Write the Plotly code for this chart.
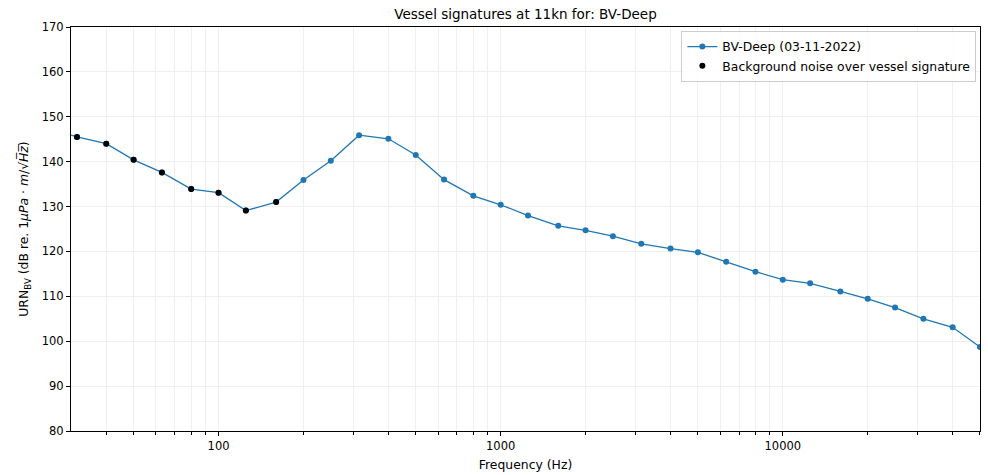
import plotly.graph_objects as go

# One-third-octave band centre frequencies (Hz)
freqs = [25, 31.5, 40, 50, 63, 80, 100, 125, 160, 200, 250, 315, 400, 500, 630,
         800, 1000, 1250, 1600, 2000, 2500, 3150, 4000, 5000, 6300, 8000,
         10000, 12500, 16000, 20000, 25000, 31500, 40000, 50000]

# Radiated noise level per band (dB re 1 uPa m / sqrt(Hz))
urn = [147.5, 145.5, 144.0, 140.4, 137.6, 133.9, 133.1, 129.1, 131.0, 135.9, 140.2,
       145.9, 145.1, 141.5, 136.0, 132.4, 130.4, 128.0, 125.7, 124.7, 123.4,
       121.7, 120.65, 119.8, 117.7, 115.5, 113.7, 112.9, 111.1, 109.45, 107.5,
       105.0, 103.1, 98.7]

# Bands where the background noise exceeds the vessel signature
noise_freqs = [25, 31.5, 40, 50, 63, 80, 100, 125, 160]
noise_urn = [147.5, 145.5, 144.0, 140.4, 137.6, 133.9, 133.1, 129.1, 131.0]

x_major = [100, 1000, 10000]
x_major_text = ["100", "1000", "10000"]
x_minor = [40, 50, 60, 70, 80, 90,
           200, 300, 400, 500, 600, 700, 800, 900,
           2000, 3000, 4000, 5000, 6000, 7000, 8000, 9000,
           20000, 30000, 40000, 50000]
y_ticks = list(range(80, 171, 10))

BLUE = "#1f77b4"
FONT = "DejaVu Sans"
GRID = "#efefef"

fig = go.Figure()
fig.add_trace(go.Scatter(
    x=freqs, y=urn, mode="lines+markers",
    name="BV-Deep (03-11-2022)",
    line=dict(color=BLUE, width=1.3),
    marker=dict(color=BLUE, size=6),
))
fig.add_trace(go.Scatter(
    x=noise_freqs, y=noise_urn, mode="markers",
    name="Background noise over vessel signature",
    marker=dict(color="black", size=6),
))

fig.update_layout(
    width=988, height=475,
    margin=dict(l=71, r=8, t=27, b=44),
    paper_bgcolor="white", plot_bgcolor="white",
    font=dict(family=FONT, size=11.5, color="black"),
    title=dict(text="Vessel signatures at 11kn for: BV-Deep",
               x=0.5, xanchor="center", y=0.97, yanchor="middle",
               xref="paper", font=dict(size=13.5)),
    showlegend=True,
    legend=dict(x=0.996, y=0.99, xanchor="right", yanchor="top",
                bgcolor="rgba(255,255,255,0.85)", bordercolor="#cccccc",
                borderwidth=1, font=dict(size=12.4), tracegroupgap=0,
                itemwidth=30),
)

fig.update_xaxes(
    type="log", range=[1.4771, 4.699], automargin=False,
    tickmode="array", tickvals=x_major, ticktext=x_major_text,
    ticks="outside", ticklen=4, tickcolor="black",
    showline=True, linecolor="black", linewidth=1, mirror=True,
    showgrid=True, gridcolor=GRID, gridwidth=1,
    minor=dict(tickvals=x_minor, ticks="outside", ticklen=2.5,
               tickcolor="black", showgrid=True, gridcolor=GRID),
    title=dict(text="Frequency (Hz)", standoff=8, font=dict(size=12.4)),
    zeroline=False,
)
fig.update_yaxes(
    range=[80, 170], tickmode="array", tickvals=y_ticks, automargin=False,
    ticks="outside", ticklen=4, tickcolor="black",
    showline=True, linecolor="black", linewidth=1, mirror=True,
    showgrid=True, gridcolor=GRID, gridwidth=1,
    title=dict(text="URN<sub>BV</sub> (dB re. 1<i>μPa</i> · <i>m</i>/√<i>H̅z̅</i>)",
               standoff=10, font=dict(size=12.4)),
    zeroline=False,
)

fig.write_html("out.html")
